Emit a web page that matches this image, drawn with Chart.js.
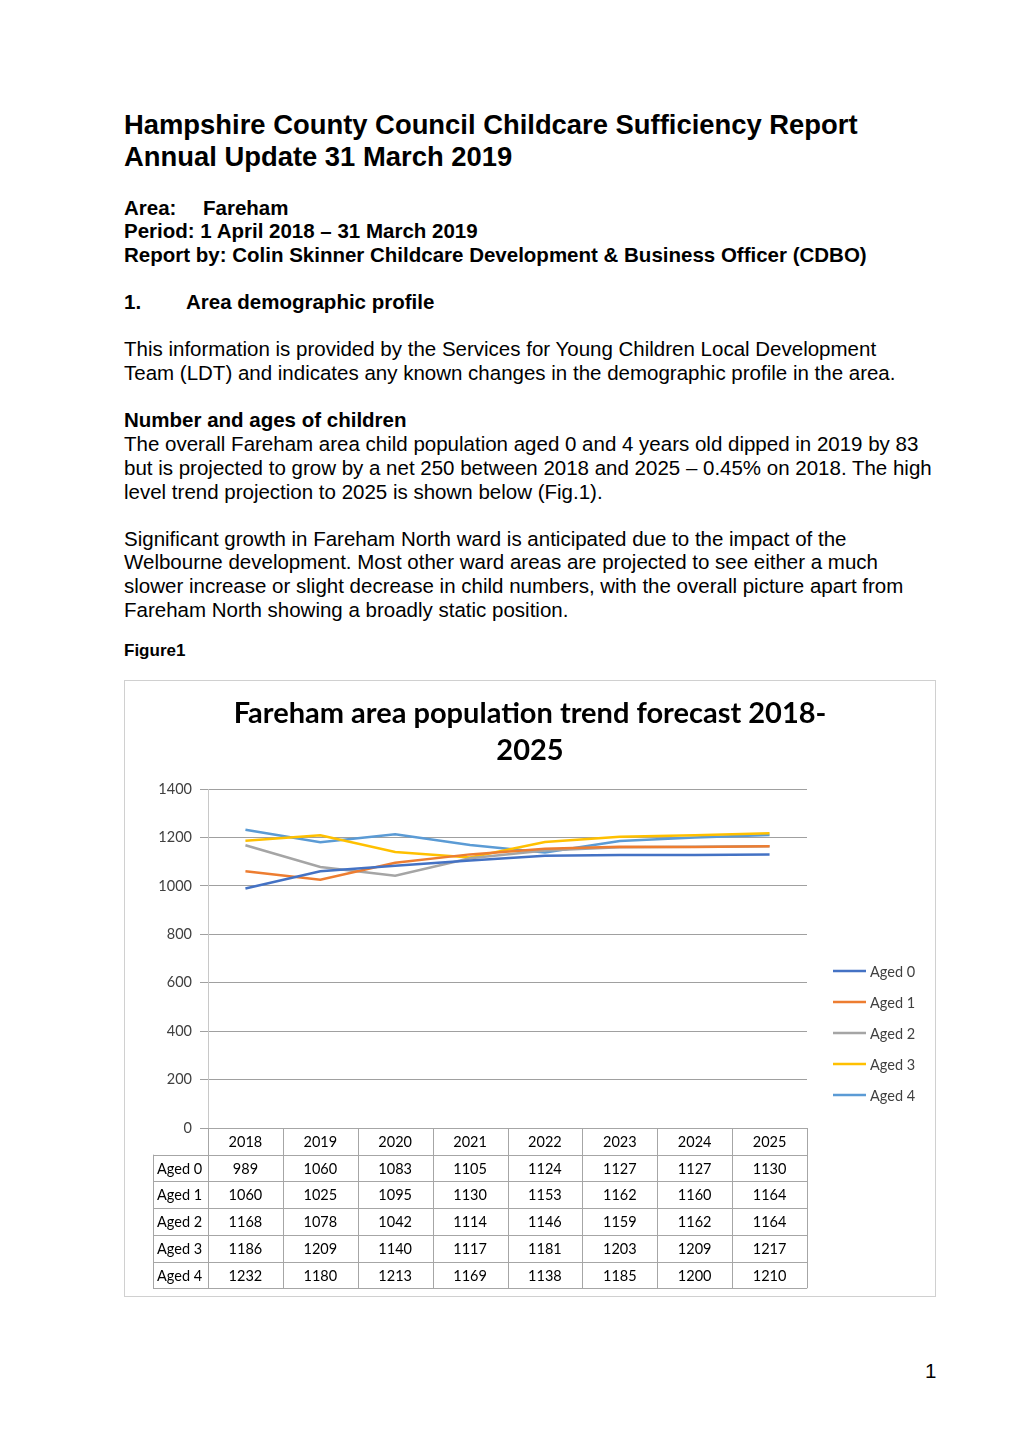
<!DOCTYPE html>
<html>
<head>
<meta charset="utf-8">
<script src="https://cdn.jsdelivr.net/npm/chart.js@4.4.1/dist/chart.umd.min.js"></script>
<style>
  html, body { margin: 0; padding: 0; background: #fff; }
  body { width: 1020px; height: 1442px; position: relative; font-family: "Liberation Sans", Arial, sans-serif; color: #000; }
  .t { position: absolute; white-space: nowrap; left: 124px; }
  .h1 { font-size: 27.4px; font-weight: bold; line-height: 32px; }
  .b { font-weight: bold; font-size: 20.5px; line-height: 24px; }
  .p { font-size: 20.5px; line-height: 24px; }
  #chartBox { position: absolute; left: 124px; top: 680px; width: 810px; height: 615px; border: 1px solid #d0d0d0; }
</style>
</head>
<body>
<div class="t h1" style="top:109px">Hampshire County Council Childcare Sufficiency Report</div>
<div class="t h1" style="top:141px">Annual Update 31 March 2019</div>

<div class="t b" style="top:196px">Area:</div>
<div class="t b" style="top:196px; left:203px">Fareham</div>
<div class="t b" style="top:219px">Period: 1 April 2018 – 31 March 2019</div>
<div class="t b" style="top:243px">Report by: Colin Skinner Childcare Development &amp; Business Officer (CDBO)</div>

<div class="t b" style="top:290px">1.</div>
<div class="t b" style="top:290px; left:186px">Area demographic profile</div>

<div class="t p" style="top:337px">This information is provided by the Services for Young Children Local Development</div>
<div class="t p" style="top:361px">Team (LDT) and indicates any known changes in the demographic profile in the area.</div>

<div class="t b" style="top:408px">Number and ages of children</div>
<div class="t p" style="top:432px">The overall Fareham area child population aged 0 and 4 years old dipped in 2019 by 83</div>
<div class="t p" style="top:456px">but is projected to grow by a net 250 between 2018 and 2025 – 0.45% on 2018. The high</div>
<div class="t p" style="top:480px">level trend projection to 2025 is shown below (Fig.1).</div>

<div class="t p" style="top:527px">Significant growth in Fareham North ward is anticipated due to the impact of the</div>
<div class="t p" style="top:550px">Welbourne development. Most other ward areas are projected to see either a much</div>
<div class="t p" style="top:574px">slower increase or slight decrease in child numbers, with the overall picture apart from</div>
<div class="t p" style="top:598px">Fareham North showing a broadly static position.</div>

<div class="t b" style="top:639px; font-size:17px">Figure1</div>

<div id="chartBox"><canvas id="popChart" width="810" height="615"></canvas></div>

<div class="t p" style="top:1359px; left:925px">1</div>

<script>
const years = ["2018", "2019", "2020", "2021", "2022", "2023", "2024", "2025"];
const aged0 = [989, 1060, 1083, 1105, 1124, 1127, 1127, 1130];
const aged1 = [1060, 1025, 1095, 1130, 1153, 1162, 1160, 1164];
const aged2 = [1168, 1078, 1042, 1114, 1146, 1159, 1162, 1164];
const aged3 = [1186, 1209, 1140, 1117, 1181, 1203, 1209, 1217];
const aged4 = [1232, 1180, 1213, 1169, 1138, 1185, 1200, 1210];
const seriesNames = ["Aged 0", "Aged 1", "Aged 2", "Aged 3", "Aged 4"];
const seriesColors = ["#4472C4", "#ED7D31", "#A5A5A5", "#FFC000", "#5B9BD5"];
const yTicks = [0, 200, 400, 600, 800, 1000, 1200, 1400];

const chartFont = "Lato, 'Open Sans', sans-serif";

// data table + legend drawn under / beside the plot, Excel style
const tablePlugin = {
  id: "dataTable",
  afterDraw(chart) {
    const ctx = chart.ctx;
    const area = chart.chartArea;
    const xs = chart.scales.x;
    const colW = (area.right - area.left) / years.length;
    const rowH = 26.7;
    const labelLeft = 28;
    const top = area.bottom;
    const rows = chart.data.datasets;

    ctx.save();
    ctx.strokeStyle = "#a6a6a6";
    ctx.lineWidth = 1;
    ctx.beginPath();
    for (let k = 0; k <= rows.length + 1; k++) {
      const y = Math.round(top + k * rowH) + 0.5;
      ctx.moveTo(k === 0 ? area.left : labelLeft, y);
      ctx.lineTo(area.right, y);
    }
    for (let j = 0; j <= years.length; j++) {
      const x = Math.round(area.left + j * colW) + 0.5;
      ctx.moveTo(x, top);
      ctx.lineTo(x, top + (rows.length + 1) * rowH);
    }
    const lx = labelLeft + 0.5;
    ctx.moveTo(lx, top + rowH);
    ctx.lineTo(lx, top + (rows.length + 1) * rowH);
    ctx.stroke();

    ctx.fillStyle = "#000";
    ctx.font = "14.5px " + chartFont;
    ctx.textBaseline = "middle";
    ctx.textAlign = "center";
    years.forEach((yr, i) => {
      ctx.fillText(yr, xs.getPixelForValue(i), top + rowH / 2 + 1);
    });
    rows.forEach((ds, r) => {
      const cy = top + (r + 1.5) * rowH + 1;
      ctx.textAlign = "left";
      ctx.fillText(ds.label, labelLeft + 4, cy);
      ctx.textAlign = "center";
      ds.data.forEach((v, i) => {
        ctx.fillText(String(v), xs.getPixelForValue(i), cy);
      });
    });

    // legend
    ctx.textAlign = "left";
    ctx.fillStyle = "#404040";
    rows.forEach((ds, r) => {
      const y = 290 + r * 31;
      ctx.strokeStyle = ds.borderColor;
      ctx.lineWidth = 2.5;
      ctx.beginPath();
      ctx.moveTo(708, y);
      ctx.lineTo(741, y);
      ctx.stroke();
      ctx.fillText(ds.label, 745, y + 1);
    });
    ctx.restore();
  }
};

const allSeries = [aged0, aged1, aged2, aged3, aged4];

new Chart(document.getElementById("popChart"), {
  type: "line",
  data: {
    labels: years,
    datasets: allSeries.map((vals, i) => ({
      label: seriesNames[i],
      data: vals,
      borderColor: seriesColors[i],
      backgroundColor: seriesColors[i],
      borderWidth: 2.5,
      pointRadius: 0,
      tension: 0,
      fill: false,
    })),
  },
  options: {
    responsive: false,
    animation: false,
    layout: { padding: { left: 0, right: 0, top: 0, bottom: 168 } },
    plugins: {
      legend: { display: false },
      tooltip: { enabled: false },
      title: {
        display: true,
        text: ["Fareham area population trend forecast 2018-", "2025"],
        color: "#000",
        font: { family: chartFont, size: 29, weight: "bold", lineHeight: "37px" },
        padding: { top: 14, bottom: 20 },
      },
    },
    scales: {
      x: {
        display: false,
        offset: true,
      },
      y: {
        min: 0,
        max: 1400,
        afterBuildTicks: (scale) => {
          scale.ticks = yTicks.map((v) => ({ value: v }));
        },
        afterFit: (scale) => {
          scale.width = 83;
        },
        ticks: {
          color: "#404040",
          padding: 8,
          font: { family: chartFont, size: 14.5 },
          callback: (v) => String(v),
        },
        grid: {
          color: "#a0a0a0",
          tickLength: 8,
          tickColor: "#a0a0a0",
        },
        border: { color: "#c8c8c8" },
      },
      // empty right-hand box that reserves room for the legend
      side: {
        type: "linear",
        position: "right",
        ticks: { display: false },
        grid: { display: false },
        border: { display: false },
        afterFit: (scale) => {
          scale.width = 128;
        },
      },
    },
  },
  plugins: [tablePlugin],
});
</script>
</body>
</html>
